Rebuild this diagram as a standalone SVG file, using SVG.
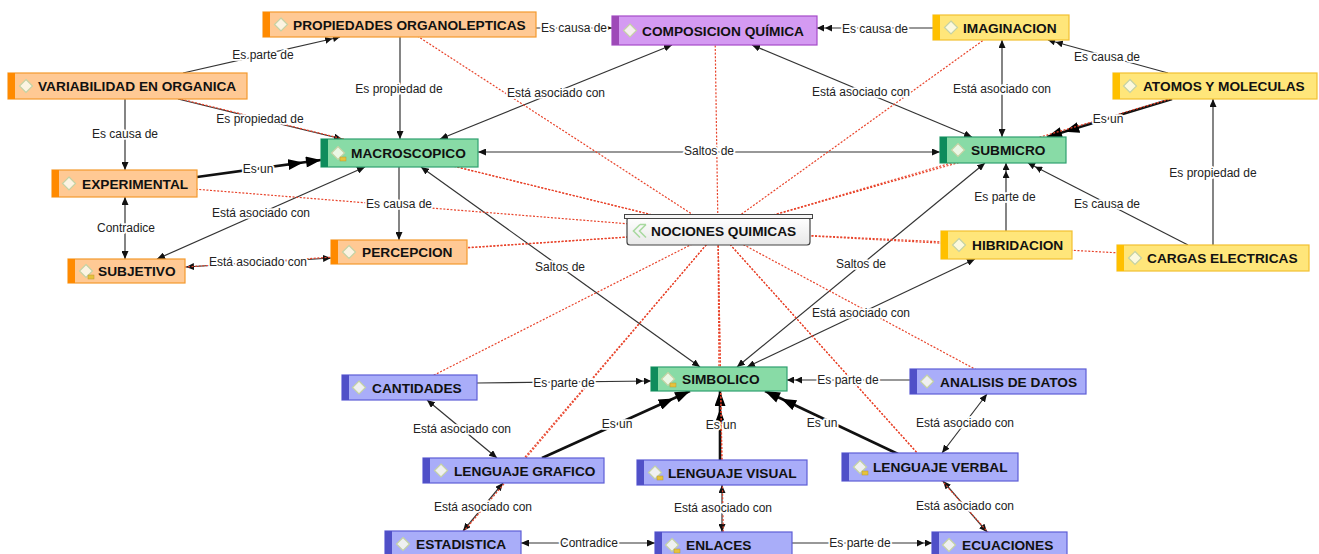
<svg xmlns="http://www.w3.org/2000/svg" width="1319" height="554" viewBox="0 0 1319 554">
<style>
.t{font-family:"Liberation Sans",Arial,sans-serif;font-weight:bold;font-size:13.7px;fill:#111}
.l{font-family:"Liberation Sans",Arial,sans-serif;font-size:12px;fill:#222;stroke:#fff;stroke-width:3.5;paint-order:stroke;stroke-linejoin:round;text-anchor:middle}
.c{stroke:#333;stroke-width:1.2;fill:none}
.k{stroke:#111;stroke-width:2.6;fill:none}
.r{stroke:#e8432a;stroke-width:1.2;stroke-dasharray:2 1.6;fill:none}
.bx{stroke-width:1.2}
.dm{fill:#fbfbf0;fill-opacity:.85;stroke:#c4d2a4;stroke-width:1.2}
.nt{fill:#e6c23c;stroke:#b89a30;stroke-width:.5}
.or .bx{fill:#ffc994;stroke:#f39a2e}.or .ac{fill:#ff8a00}
.pu .bx{fill:#d49af2;stroke:#a54bc8}.pu .ac{fill:#9e4ab8}
.ye .bx{fill:#ffe67a;stroke:#f2c030}.ye .ac{fill:#ffc000}
.gr .bx{fill:#88dba6;stroke:#2fa070}.gr .ac{fill:#0e8c5c}
.bl .bx{fill:#a9adf9;stroke:#5e5ed6}.bl .ac{fill:#5050c8}
</style>
<defs>
<marker id="s" markerUnits="userSpaceOnUse" viewBox="0 0 8 7" refX="8" refY="3.5" markerWidth="8" markerHeight="7" orient="auto-start-reverse"><path d="M0,0 L8,3.5 L0,7 z" fill="#111"/></marker>
<marker id="d" markerUnits="userSpaceOnUse" viewBox="0 0 15 7" refX="15" refY="3.5" markerWidth="15" markerHeight="7" orient="auto"><path d="M0,0 L7,3.5 L0,7 z M8,0 L15,3.5 L8,7 z" fill="#111"/></marker>
<marker id="B" markerUnits="userSpaceOnUse" viewBox="0 0 33 11" refX="33" refY="5.5" markerWidth="33" markerHeight="11" orient="auto"><path d="M0,0 L15,5.5 L0,11 z M18,0 L33,5.5 L18,11 z" fill="#000"/></marker>
<linearGradient id="gw" x1="0" y1="0" x2="0" y2="1"><stop offset="0" stop-color="#ffffff"/><stop offset="1" stop-color="#e8e8e8"/></linearGradient>
</defs>
<rect width="1319" height="554" fill="#fff"/>
<g id="connectors">
<g id="links">
<line class="c" x1="183" y1="73" x2="340" y2="37" marker-end="url(#d)"/>
<line class="c" x1="178" y1="99" x2="342" y2="139" marker-end="url(#s)"/>
<line class="c" x1="400" y1="37" x2="400" y2="139" marker-end="url(#s)"/>
<line class="c" x1="536" y1="28" x2="612" y2="28" marker-end="url(#s)"/>
<line class="c" x1="933" y1="28" x2="817" y2="28" marker-end="url(#d)"/>
<line class="c" x1="440" y1="139" x2="672" y2="45" marker-start="url(#s)" marker-end="url(#s)"/>
<line class="c" x1="752" y1="45" x2="972" y2="137" marker-start="url(#s)" marker-end="url(#s)"/>
<line class="c" x1="1002" y1="40" x2="1002" y2="137" marker-start="url(#s)" marker-end="url(#s)"/>
<line class="c" x1="1168" y1="73" x2="1048" y2="40" marker-end="url(#d)"/>
<line class="k" x1="1172" y1="99" x2="1047" y2="137" marker-end="url(#B)"/>
<line class="c" x1="1213" y1="245" x2="1213" y2="99" marker-end="url(#s)"/>
<line class="c" x1="1188" y1="245" x2="1028" y2="163" marker-end="url(#d)"/>
<line class="c" x1="1006" y1="231" x2="1006" y2="163" marker-end="url(#d)"/>
<line class="c" x1="478" y1="152" x2="940" y2="152" marker-start="url(#s)" marker-end="url(#s)"/>
<line class="c" x1="421" y1="167" x2="700" y2="367" marker-start="url(#s)" marker-end="url(#s)"/>
<line class="c" x1="985" y1="163" x2="737" y2="367" marker-start="url(#s)" marker-end="url(#s)"/>
<line class="c" x1="975" y1="259" x2="747" y2="367" marker-start="url(#s)" marker-end="url(#s)"/>
<line class="k" x1="197" y1="177" x2="321" y2="160" marker-end="url(#B)"/>
<line class="c" x1="125" y1="99" x2="125" y2="170" marker-end="url(#s)"/>
<line class="c" x1="125" y1="197" x2="125" y2="259" marker-start="url(#s)" marker-end="url(#s)"/>
<line class="c" x1="157" y1="259" x2="365" y2="167" marker-start="url(#s)" marker-end="url(#s)"/>
<line class="c" x1="186" y1="267" x2="331" y2="258" marker-start="url(#s)" marker-end="url(#s)"/>
<line class="c" x1="399" y1="167" x2="399" y2="240" marker-end="url(#s)"/>
<line class="c" x1="477" y1="383" x2="651" y2="381" marker-end="url(#d)"/>
<line class="c" x1="910" y1="380" x2="787" y2="380" marker-end="url(#d)"/>
<line class="c" x1="427" y1="400" x2="497" y2="458" marker-start="url(#s)" marker-end="url(#s)"/>
<line class="k" x1="542" y1="458" x2="690" y2="391" marker-end="url(#B)"/>
<line class="k" x1="720" y1="460" x2="720" y2="391" marker-end="url(#B)"/>
<line class="k" x1="898" y1="454" x2="765" y2="391" marker-end="url(#B)"/>
<line class="c" x1="987" y1="394" x2="942" y2="453" marker-start="url(#s)" marker-end="url(#s)"/>
<line class="c" x1="943" y1="481" x2="987" y2="532" marker-start="url(#s)" marker-end="url(#s)"/>
<line class="c" x1="503" y1="483" x2="463" y2="531" marker-start="url(#s)" marker-end="url(#s)"/>
<line class="c" x1="722" y1="485" x2="722" y2="532" marker-start="url(#s)" marker-end="url(#s)"/>
<line class="c" x1="521" y1="543" x2="655" y2="543" marker-start="url(#s)" marker-end="url(#s)"/>
<line class="c" x1="792" y1="543" x2="932" y2="543" marker-end="url(#d)"/>
</g>
<g id="dotted">
<line class="r" x1="718" y1="231" x2="399.5" y2="24.5"/>
<line class="r" x1="718" y1="231" x2="127.5" y2="86"/>
<line class="r" x1="718" y1="231" x2="124.5" y2="183.5"/>
<line class="r" x1="718" y1="231" x2="715" y2="30.5"/>
<line class="r" x1="718" y1="231" x2="1001" y2="27.5"/>
<line class="r" x1="718" y1="231" x2="1215" y2="86"/>
<line class="r" x1="718" y1="231" x2="399.5" y2="153"/>
<line class="r" x1="718" y1="231" x2="1003" y2="150"/>
<line class="r" x1="718" y1="231" x2="1006.5" y2="245"/>
<line class="r" x1="718" y1="231" x2="1213" y2="258"/>
<line class="r" x1="718" y1="231" x2="126.5" y2="271"/>
<line class="r" x1="718" y1="231" x2="399" y2="252"/>
<line class="r" x1="718" y1="231" x2="409.5" y2="387.5"/>
<line class="r" x1="718" y1="231" x2="719" y2="379"/>
<line class="r" x1="718" y1="231" x2="998" y2="381.5"/>
<line class="r" x1="718" y1="231" x2="513.5" y2="470.5"/>
<line class="r" x1="718" y1="231" x2="722" y2="472.5"/>
<line class="r" x1="718" y1="231" x2="930" y2="467"/>
<line class="r" x1="718" y1="231" x2="453" y2="544"/>
<line class="r" x1="718" y1="231" x2="723.5" y2="545"/>
<line class="r" x1="718" y1="231" x2="999.5" y2="545"/>
</g>
<g id="labels">
<text class="l" x="263" y="59">Es parte de</text>
<text class="l" x="260" y="123">Es propiedad de</text>
<text class="l" x="399" y="93">Es propiedad de</text>
<text class="l" x="574" y="32">Es causa de</text>
<text class="l" x="875" y="33">Es causa de</text>
<text class="l" x="556" y="97">Está asociado con</text>
<text class="l" x="861" y="96">Está asociado con</text>
<text class="l" x="1002" y="93">Está asociado con</text>
<text class="l" x="1107" y="61">Es causa de</text>
<text class="l" x="1108" y="123">Es un</text>
<text class="l" x="1213" y="177">Es propiedad de</text>
<text class="l" x="1107" y="208">Es causa de</text>
<text class="l" x="1005" y="201">Es parte de</text>
<text class="l" x="709" y="155">Saltos de</text>
<text class="l" x="560" y="271">Saltos de</text>
<text class="l" x="861" y="268">Saltos de</text>
<text class="l" x="861" y="317">Está asociado con</text>
<text class="l" x="258" y="173">Es un</text>
<text class="l" x="125" y="138">Es causa de</text>
<text class="l" x="126" y="232">Contradice</text>
<text class="l" x="261" y="217">Está asociado con</text>
<text class="l" x="258" y="266">Está asociado con</text>
<text class="l" x="399" y="208">Es causa de</text>
<text class="l" x="564" y="387">Es parte de</text>
<text class="l" x="848" y="384">Es parte de</text>
<text class="l" x="462" y="433">Está asociado con</text>
<text class="l" x="617" y="428">Es un</text>
<text class="l" x="721" y="429">Es un</text>
<text class="l" x="822" y="427">Es un</text>
<text class="l" x="965" y="427">Está asociado con</text>
<text class="l" x="965" y="510">Está asociado con</text>
<text class="l" x="483" y="511">Está asociado con</text>
<text class="l" x="723" y="512">Está asociado con</text>
<text class="l" x="589" y="547">Contradice</text>
<text class="l" x="860" y="547">Es parte de</text>
</g>
</g>
<g id="n-propiedades" class="or"><rect class="bx" x="263" y="12" width="273" height="25"/><rect class="ac" x="263" y="12" width="7" height="25"/><path class="dm" d="M281,18 l6.5,6.5 -6.5,6.5 -6.5,-6.5z"/><text class="t" x="293" y="29.5">PROPIEDADES ORGANOLEPTICAS</text></g>
<g id="n-variabilidad" class="or"><rect class="bx" x="8" y="73" width="239" height="26"/><rect class="ac" x="8" y="73" width="7" height="26"/><path class="dm" d="M26,79.5 l6.5,6.5 -6.5,6.5 -6.5,-6.5z"/><text class="t" x="38" y="91">VARIABILIDAD EN ORGANICA</text></g>
<g id="n-experimental" class="or"><rect class="bx" x="52" y="170" width="145" height="27"/><rect class="ac" x="52" y="170" width="7" height="27"/><path class="dm" d="M69,177 l6.5,6.5 -6.5,6.5 -6.5,-6.5z"/><text class="t" x="82" y="188.5">EXPERIMENTAL</text></g>
<g id="n-composicion" class="pu"><rect class="bx" x="612" y="16" width="205" height="29"/><rect class="ac" x="612" y="16" width="7" height="29"/><path class="dm" d="M630,24 l6.5,6.5 -6.5,6.5 -6.5,-6.5z"/><text class="t" x="642" y="35.5">COMPOSICION QUÍMICA</text></g>
<g id="n-imaginacion" class="ye"><rect class="bx" x="933" y="15" width="136" height="25"/><rect class="ac" x="933" y="15" width="7" height="25"/><path class="dm" d="M951,21 l6.5,6.5 -6.5,6.5 -6.5,-6.5z"/><text class="t" x="963" y="32.5">IMAGINACION</text></g>
<g id="n-atomos" class="ye"><rect class="bx" x="1113" y="73" width="204" height="26"/><rect class="ac" x="1113" y="73" width="7" height="26"/><path class="dm" d="M1130,79.5 l6.5,6.5 -6.5,6.5 -6.5,-6.5z"/><text class="t" x="1143" y="91">ATOMOS Y MOLECULAS</text></g>
<g id="n-macroscopico" class="gr"><rect class="bx" x="321" y="139" width="157" height="28"/><rect class="ac" x="321" y="139" width="7" height="28"/><path class="dm" d="M338,146.5 l6.5,6.5 -6.5,6.5 -6.5,-6.5z"/><rect class="nt" x="340" y="157" width="6" height="4"/><text class="t" x="351" y="158">MACROSCOPICO</text></g>
<g id="n-submicro" class="gr"><rect class="bx" x="940" y="137" width="126" height="26"/><rect class="ac" x="940" y="137" width="7" height="26"/><path class="dm" d="M958,143.5 l6.5,6.5 -6.5,6.5 -6.5,-6.5z"/><text class="t" x="971" y="155">SUBMICRO</text></g>
<g id="n-hibridacion" class="ye"><rect class="bx" x="941" y="231" width="131" height="28"/><rect class="ac" x="941" y="231" width="7" height="28"/><path class="dm" d="M959,238.5 l6.5,6.5 -6.5,6.5 -6.5,-6.5z"/><text class="t" x="972" y="250">HIBRIDACION</text></g>
<g id="n-cargas" class="ye"><rect class="bx" x="1117" y="245" width="192" height="26"/><rect class="ac" x="1117" y="245" width="7" height="26"/><path class="dm" d="M1135,251.5 l6.5,6.5 -6.5,6.5 -6.5,-6.5z"/><text class="t" x="1147" y="263">CARGAS ELECTRICAS</text></g>
<g id="n-subjetivo" class="or"><rect class="bx" x="68" y="259" width="117" height="24"/><rect class="ac" x="68" y="259" width="7" height="24"/><path class="dm" d="M86,264.5 l6.5,6.5 -6.5,6.5 -6.5,-6.5z"/><rect class="nt" x="88" y="275" width="6" height="4"/><text class="t" x="98" y="276">SUBJETIVO</text></g>
<g id="n-percepcion" class="or"><rect class="bx" x="331" y="240" width="136" height="24"/><rect class="ac" x="331" y="240" width="7" height="24"/><path class="dm" d="M349,245.5 l6.5,6.5 -6.5,6.5 -6.5,-6.5z"/><text class="t" x="362" y="257">PERCEPCION</text></g>
<g id="n-nociones"><rect x="627" y="217" width="183" height="28" rx="3" fill="url(#gw)" stroke="#444" stroke-width="1.2"/><rect x="624.5" y="214.5" width="188" height="4" fill="#f6f6f6" stroke="#444" stroke-width="1"/><path d="M640,224.5 l-6.5,6.5 6.5,6.5 M646,224.5 l-6.5,6.5 6.5,6.5 M640,224.5 l6,0" fill="none" stroke="#a9d9a0" stroke-width="1.6"/><text class="t" x="651" y="236">NOCIONES QUIMICAS</text></g>
<g id="n-cantidades" class="bl"><rect class="bx" x="342" y="375" width="135" height="25"/><rect class="ac" x="342" y="375" width="7" height="25"/><path class="dm" d="M359,381 l6.5,6.5 -6.5,6.5 -6.5,-6.5z"/><text class="t" x="372" y="392.5">CANTIDADES</text></g>
<g id="n-simbolico" class="gr"><rect class="bx" x="651" y="367" width="136" height="24"/><rect class="ac" x="651" y="367" width="7" height="24"/><path class="dm" d="M668,372.5 l6.5,6.5 -6.5,6.5 -6.5,-6.5z"/><rect class="nt" x="670" y="383" width="6" height="4"/><text class="t" x="682" y="384">SIMBOLICO</text></g>
<g id="n-analisis" class="bl"><rect class="bx" x="910" y="369" width="176" height="25"/><rect class="ac" x="910" y="369" width="7" height="25"/><path class="dm" d="M927,375 l6.5,6.5 -6.5,6.5 -6.5,-6.5z"/><text class="t" x="940" y="386.5">ANALISIS DE DATOS</text></g>
<g id="n-lgrafico" class="bl"><rect class="bx" x="423" y="458" width="181" height="25"/><rect class="ac" x="423" y="458" width="7" height="25"/><path class="dm" d="M441,464 l6.5,6.5 -6.5,6.5 -6.5,-6.5z"/><text class="t" x="454" y="475.5">LENGUAJE GRAFICO</text></g>
<g id="n-lvisual" class="bl"><rect class="bx" x="637" y="460" width="170" height="25"/><rect class="ac" x="637" y="460" width="7" height="25"/><path class="dm" d="M655,466 l6.5,6.5 -6.5,6.5 -6.5,-6.5z"/><rect class="nt" x="657" y="476" width="6" height="4"/><text class="t" x="668" y="477.5">LENGUAJE VISUAL</text></g>
<g id="n-lverbal" class="bl"><rect class="bx" x="842" y="453" width="176" height="28"/><rect class="ac" x="842" y="453" width="7" height="28"/><path class="dm" d="M860,460.5 l6.5,6.5 -6.5,6.5 -6.5,-6.5z"/><rect class="nt" x="862" y="471" width="6" height="4"/><text class="t" x="873" y="472">LENGUAJE VERBAL</text></g>
<g id="n-estadistica" class="bl"><rect class="bx" x="385" y="531" width="136" height="26"/><rect class="ac" x="385" y="531" width="7" height="26"/><path class="dm" d="M403,537.5 l6.5,6.5 -6.5,6.5 -6.5,-6.5z"/><text class="t" x="416" y="549">ESTADISTICA</text></g>
<g id="n-enlaces" class="bl"><rect class="bx" x="655" y="532" width="137" height="26"/><rect class="ac" x="655" y="532" width="7" height="26"/><path class="dm" d="M672,538.5 l6.5,6.5 -6.5,6.5 -6.5,-6.5z"/><rect class="nt" x="674" y="549" width="6" height="4"/><text class="t" x="686" y="550">ENLACES</text></g>
<g id="n-ecuaciones" class="bl"><rect class="bx" x="932" y="532" width="135" height="26"/><rect class="ac" x="932" y="532" width="7" height="26"/><path class="dm" d="M949,538.5 l6.5,6.5 -6.5,6.5 -6.5,-6.5z"/><text class="t" x="962" y="550">ECUACIONES</text></g>
</svg>
